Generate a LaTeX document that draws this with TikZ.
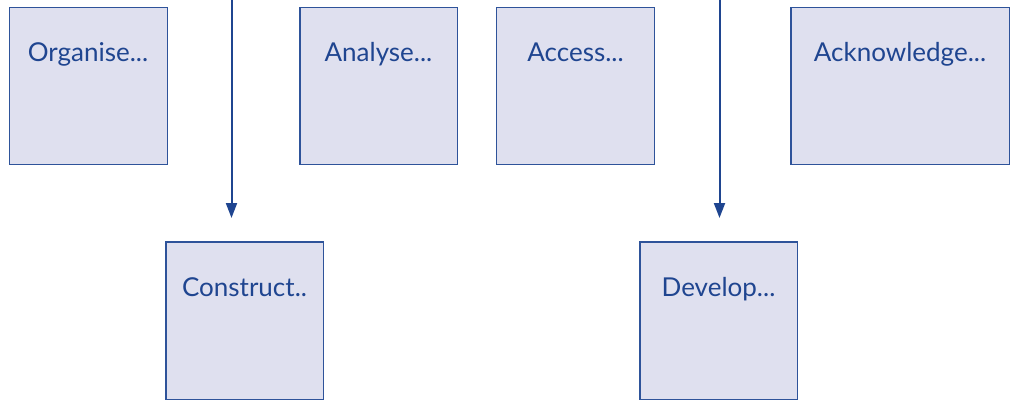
\documentclass[tikz,border=0pt]{standalone}
\usepackage{fontspec}
\setmainfont{Lato}
\usetikzlibrary{arrows.meta}
\definecolor{boxfill}{HTML}{DFE0EF}
\definecolor{boxline}{HTML}{2E539A}
\definecolor{ink}{HTML}{1F4590}
\begin{document}
\begin{tikzpicture}[x=1pt,y=-1pt,
  card/.style={draw=boxline,line width=1.3pt,fill=boxfill},
  caption/.style={anchor=base,text=ink,font=\fontsize{26}{30}\selectfont,inner sep=0pt},
  flow/.style={draw=ink,line width=2pt,-{Triangle[length=15pt,width=11pt]}}]
  \useasboundingbox (0,0) rectangle (1012,401);
  % upper row
  \draw[card] (9.5,7.5) rectangle (167.5,164.5);
  \node[caption] (organise) at (88,62) {Organise...};
  \draw[card] (300,7.5) rectangle (457.5,164.5);
  \node[caption] (analyse) at (378.5,62) {Analyse...};
  \draw[card] (496.5,7.5) rectangle (654.5,164.5);
  \node[caption] (access) at (575.5,62) {Access...};
  \draw[card] (791,7.5) rectangle (1009.5,164.5);
  \node[caption] (acknowledge) at (900,62) {Acknowledge...};
  % lower row
  \draw[card] (166,242) rectangle (323.5,399.5);
  \node[caption] (construct) at (244.5,296.5) {Construct..};
  \draw[card] (640,242) rectangle (797.5,399.5);
  \node[caption] (develop) at (718.5,296.5) {Develop...};
  % connectors
  \coordinate (inA) at (231.5,0);
  \coordinate (tipA) at (231.5,218);
  \coordinate (inB) at (719.5,0);
  \coordinate (tipB) at (719.5,218);
  \draw[flow] (inA) -- (tipA);
  \draw[flow] (inB) -- (tipB);
\end{tikzpicture}
\end{document}
